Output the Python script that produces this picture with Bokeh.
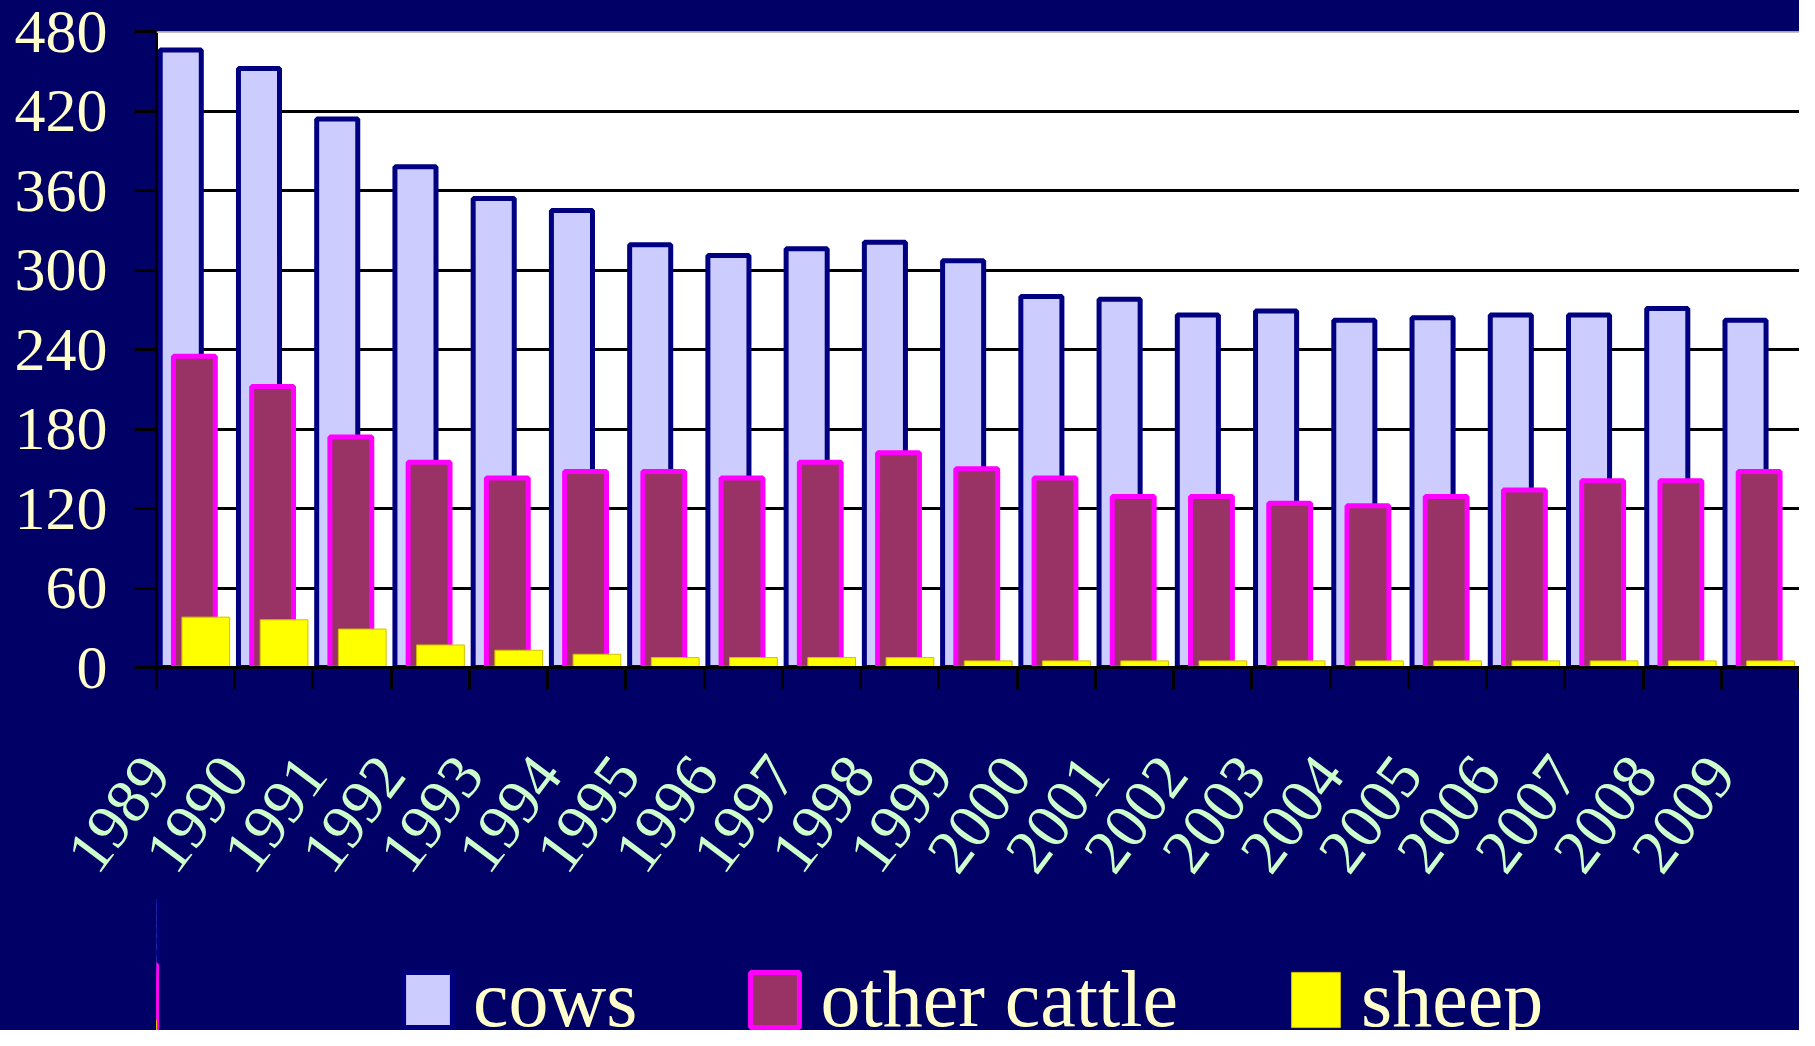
import numpy as np
from bokeh.plotting import figure
from bokeh.layouts import column
from bokeh.models import Range1d, FixedTicker, Legend, LegendItem, Span, ColumnDataSource
from bokeh.transform import dodge
from bokeh.embed import file_html
from bokeh.resources import INLINE

years = ["1989", "1990", "1991", "1992", "1993", "1994", "1995", "1996", "1997", "1998",
         "1999", "2000", "2001", "2002", "2003", "2004", "2005", "2006", "2007", "2008", "2009"]
cows = [466, 452, 414, 378, 354, 345, 319, 311, 316, 321, 307,
        280, 278, 266, 269, 262, 264, 266, 266, 271, 262]
other_cattle = [235, 212, 174, 155, 143, 148, 148, 143, 155, 162, 150,
                143, 129, 129, 124, 122, 129, 134, 141, 141, 148]
sheep = [38, 36, 29, 17, 13, 10, 7.5, 7.5, 7.5, 7.5, 5,
         5, 5, 5, 5, 5, 5, 5, 5, 5, 5]
y_ticks = [0, 60, 120, 180, 240, 300, 360, 420, 480]
series_names = ["cows", "other cattle", "sheep"]

NAVY = "#000066"
FONT = "Liberation Serif"
styles = [dict(fill_color="#CCCCFF", line_color="#000080", line_width=5),
          dict(fill_color="#993366", line_color="#FF00FF", line_width=5),
          dict(fill_color="#FFFF00", line_color="#D4C000", line_width=1)]
fields = ["cows", "other", "sheep"]
offsets = [0.31, 0.484, 0.63]      # bar centres within each category
widths = [0.525, 0.535, 0.61]

idx = np.arange(len(years))
src = ColumnDataSource(dict(x=idx, cows=cows, other=other_cattle, sheep=sheep))

W = 1799
H1, H2 = 895, 135

p = figure(width=W, height=H1, output_backend="svg", toolbar_location=None,
           x_range=Range1d(0, len(years)), y_range=Range1d(0, 480),
           min_border_left=156, min_border_right=0, min_border_top=31,
           min_border_bottom=H1 - 31 - 636)
p.background_fill_color = "white"
p.border_fill_color = NAVY
p.outline_line_color = None

for f, o, w, s in zip(fields, offsets, widths, styles):
    p.vbar(x=dodge("x", o), top=f, width=w, source=src, **s)

p.add_layout(Span(location=480, dimension="width", line_color="#C0C0C0", line_width=3))

# y axis
ya = p.yaxis[0]
ya.ticker = FixedTicker(ticks=y_ticks)
ya.axis_line_color = "black"
ya.axis_line_width = 3
ya.major_tick_line_color = "black"
ya.major_tick_line_width = 3
ya.major_tick_out = 22
ya.major_tick_in = 0
ya.minor_tick_line_color = None
ya.major_label_text_font = FONT
ya.major_label_text_font_size = "62px"
ya.major_label_text_color = "#FFFFCC"
ya.major_label_standoff = 27

# x axis: labels anchored at category starts, tick marks at category boundaries
xa = p.xaxis[0]
xa.ticker = FixedTicker(ticks=list(idx), minor_ticks=list(range(len(years) + 1)))
xa.major_label_overrides = {int(i): y for i, y in zip(idx, years)}
xa.axis_line_color = "black"
xa.axis_line_width = 3
xa.major_tick_line_color = None
xa.major_tick_out = 0
xa.major_tick_in = 0
xa.minor_tick_line_color = "black"
xa.minor_tick_line_width = 3
xa.minor_tick_out = 22
xa.minor_tick_in = 0
xa.major_label_orientation = np.deg2rad(53)
xa.major_label_text_font = FONT
xa.major_label_text_font_size = "63px"
xa.major_label_text_color = "#CCFFCC"
xa.major_label_standoff = 74

p.xgrid.visible = False
p.ygrid.ticker = FixedTicker(ticks=[60, 120, 180, 240, 300, 360, 420])
p.ygrid.grid_line_color = "black"
p.ygrid.grid_line_width = 3

# legend strip below the chart (its key renderers' bars lie left of its visible x range)
p2 = figure(width=W, height=H2, output_backend="svg", toolbar_location=None,
            x_range=Range1d(25, 25 + len(years)), y_range=Range1d(0, 480),
            x_axis_type=None, y_axis_type=None,
            min_border_left=156, min_border_right=0, min_border_top=0, min_border_bottom=0)
p2.background_fill_alpha = 0
p2.border_fill_color = NAVY
p2.outline_line_color = None
p2.grid.visible = False
keys = [p2.vbar(x="x", top=f, width=w, source=src, **s)
        for f, w, s in zip(fields, widths, styles)]

legend = Legend(items=[LegendItem(label=n, renderers=[k]) for n, k in zip(series_names, keys)],
                orientation="horizontal", location=(241, -15),
                glyph_width=61, glyph_height=69, label_height=69, label_standoff=15,
                spacing=107, padding=0, margin=0, border_line_color=None,
                background_fill_alpha=0,
                label_text_font=FONT, label_text_font_size="80px", label_text_color="#FFFFCC")
p2.add_layout(legend, "center")

layout = column(p, p2, spacing=0, styles={"background-color": NAVY})
open("out.html", "w").write(file_html(layout, INLINE))
